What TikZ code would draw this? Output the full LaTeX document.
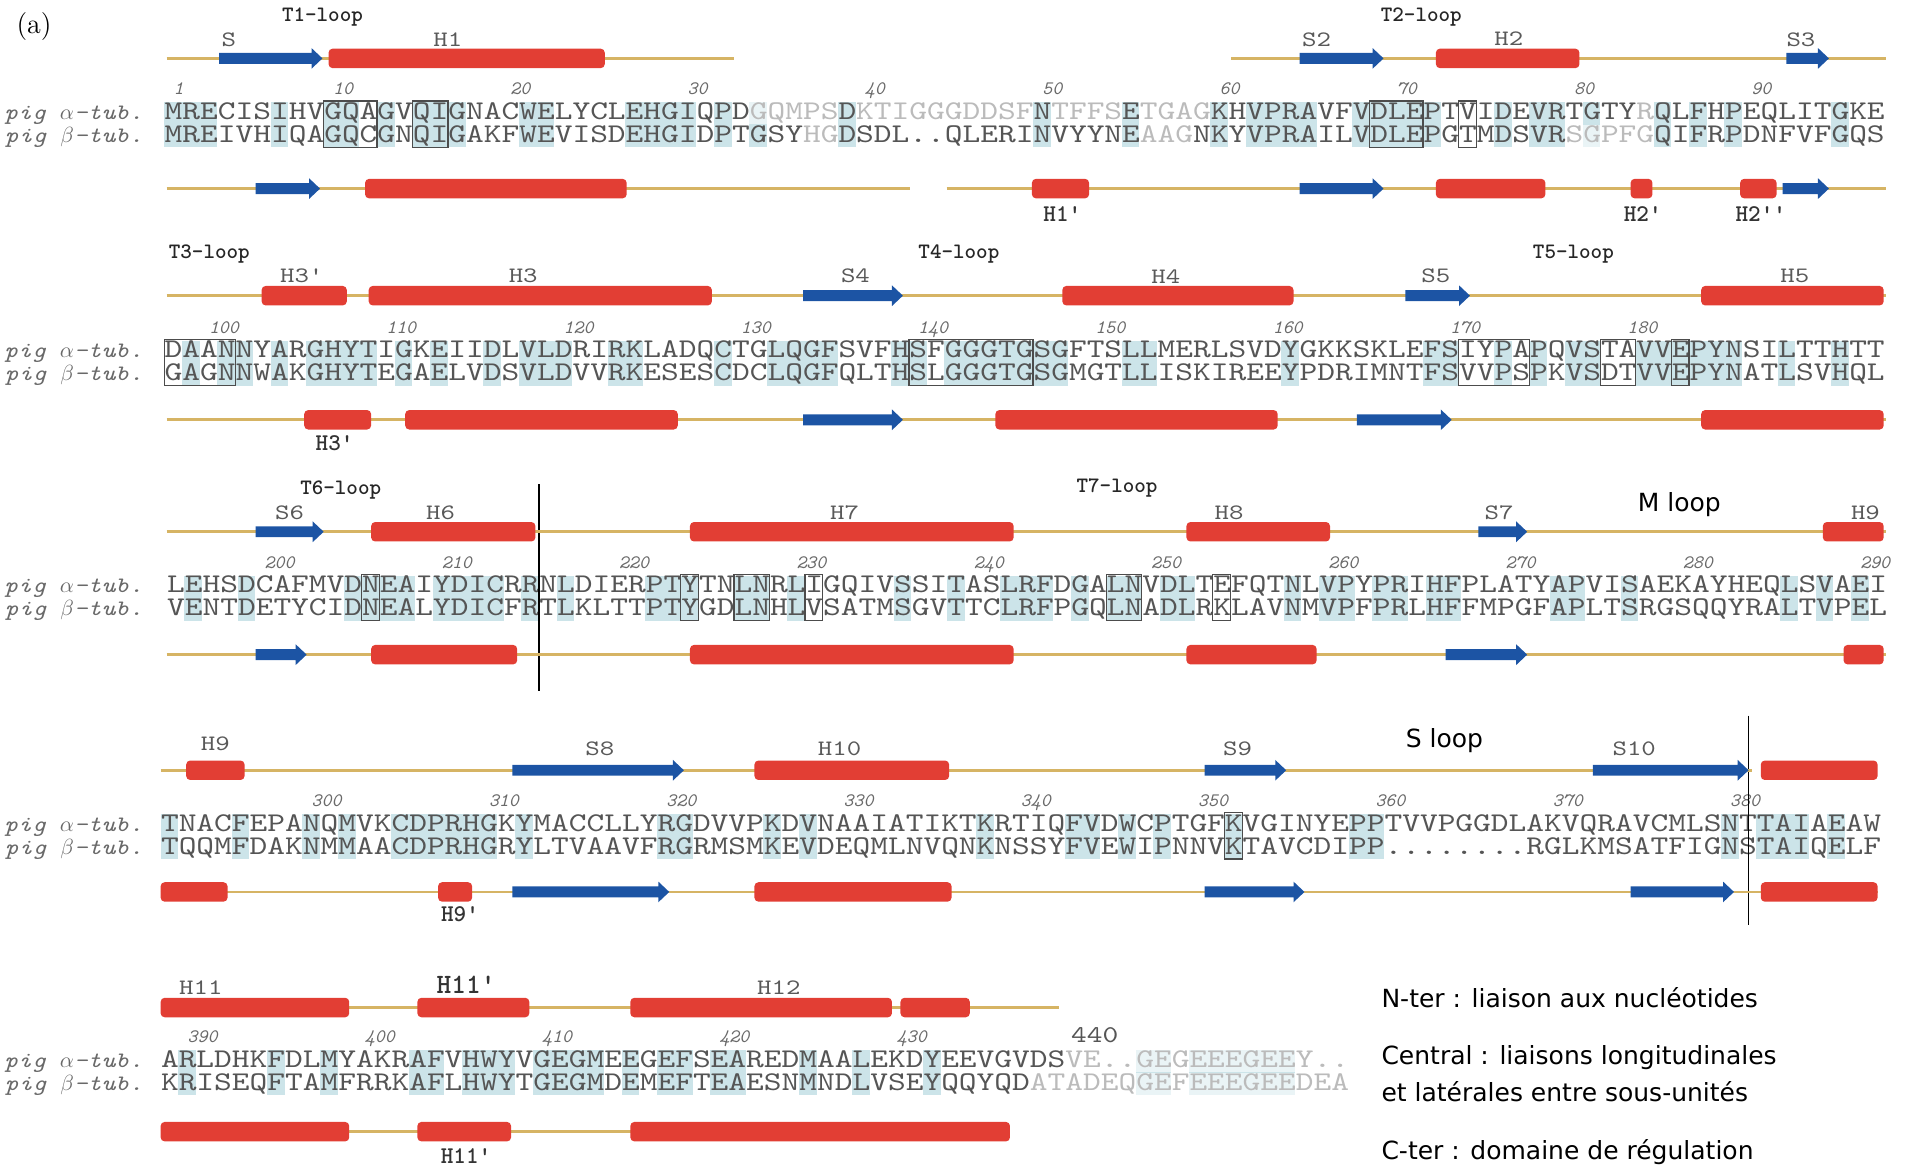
\documentclass[tikz,border=0pt]{standalone}
\usepackage{fontspec}
\usepackage{xstring}
\newfontfamily\seqfont{lmmono10-regular.otf}[FakeStretch=1.25]
\newfontfamily\numfont{lmmono10-italic.otf}
\newfontfamily\tagfont{lmmono10-italic.otf}[FakeStretch=1.2]
\newfontfamily\loopfont{lmmonolt10-bold.otf}
\newfontfamily\notefont{DejaVu Sans}

\definecolor{helixred}{RGB}{226,62,52}
\definecolor{strandblue}{RGB}{28,84,164}
\definecolor{trackline}{RGB}{214,180,100}
\definecolor{idcyan}{RGB}{204,228,233}
\definecolor{seqgray}{RGB}{85,85,85}
\definecolor{numgray}{RGB}{105,105,105}

% residue pitch
\def\pw{14.57}

% secondary structure pieces
\newcommand\helix[3]{\fill[hlx] (#1,#3-8) rectangle (#2,#3+8);}
\newcommand\strand[3]{\fill[strd] (#1,#3-4.5) -- (#2-9,#3-4.5) -- (#2-9,#3-8.5) -- (#2,#3)
  -- (#2-9,#3+8.5) -- (#2-9,#3+4.5) -- (#1,#3+4.5) -- cycle;}

% boxed residues: x0, first residue, from, to, baseline
\newcommand\resbox[5]{\draw[boxln] ({#1+(#3-#2)*\pw},#5-15) rectangle ({#1+(#4-#2+1)*\pw},#5+23);}
% faded residues: x0, first residue, from, to, top of line
\newcommand\dimres[5]{\fill[white,opacity=.6] ({#1+(#3-#2)*\pw},#5) rectangle ({#1+(#4-#2+1)*\pw},#5+18);}

% alignment block: alpha, beta, x0, baseline, first residue, ticks
\newcommand\seqrow[6]{%
  \StrLen{#1}[\seqlen]%
  \foreach \k in {1,...,\seqlen}{%
    \StrChar{#1}{\k}[\ca]\StrChar{#2}{\k}[\cb]%
    \ifx\ca\cb
      \fill[idshade] ({#3+(\k-1)*\pw},#4-14) rectangle ++(\pw,37);
    \fi
  }
  \node[seq] (a#5) at (#3,#4) {#1};
  \node[seq] (b#5) at (#3,#4+19) {#2};
  \node[tag] (ta#5) at (118,#4) {pig $\alpha$-tub.};
  \node[tag] (tb#5) at (118,#4+19) {pig $\beta$-tub.};
  \foreach \n in {#6}{\node[num] (n\n) at ({#3+(\n-#5+0.5)*\pw},#4-20) {\n};}
}

\begin{document}
\begin{tikzpicture}[x=0.6084pt, y=-0.6084pt]
    \tikzstyle{seq}    = [font=\seqfont\fontsize{13.51pt}{14pt}\selectfont, text=seqgray, inner sep=0pt, anchor=base west]
    \tikzstyle{num}    = [font=\numfont\fontsize{9.5pt}{10pt}\selectfont, text=numgray, inner sep=0pt, anchor=base west]
    \tikzstyle{tag}    = [font=\tagfont\fontsize{11pt}{11pt}\selectfont, text=numgray, inner sep=0pt, anchor=base east]
    \tikzstyle{hlx}    = [fill=helixred, rounded corners=2pt]
    \tikzstyle{strd}   = [fill=strandblue]
    \tikzstyle{track}  = [draw=trackline, line width=1.4pt]
    \tikzstyle{idshade}= [fill=idcyan]
    \tikzstyle{boxln}  = [draw=black!70, line width=0.6pt]
    \tikzstyle{sslbl}  = [font=\seqfont\fontsize{11pt}{12pt}\selectfont, text=black!65, inner sep=0pt]
    \tikzstyle{sublbl} = [font=\loopfont\fontsize{12pt}{12pt}\selectfont, text=black!80, inner sep=0pt]
    \tikzstyle{looplbl}= [font=\loopfont\fontsize{11pt}{12pt}\selectfont, text=black!85, inner sep=0pt]
    \tikzstyle{note}   = [font=\notefont\fontsize{12.5pt}{14pt}\selectfont, inner sep=0pt, anchor=base west]

    \useasboundingbox (0,0) rectangle (1568,959);
    \node[font=\fontsize{14pt}{14pt}\selectfont] (panel) at (28,22) {(a)};

    % Alignment blocks
    \seqrow{MRECISIHVGQAGVQIGNACWELYCLEHGIQPDGQMPSDKTIGGGDDSFNTFFSETGAGKHVPRAVFVDLEPTVIDEVRTGTYRQLFHPEQLITGKE}
           {MREIVHIQAGQCGNQIGAKFWEVISDEHGIDPTGSYHGDSDL..QLERINVYYNEAAGNKYVPRAILVDLEPGTMDSVRSGPFGQIFRPDNFVFGQS}
           {135}{98}{1}{1,10,20,30,40,50,60,70,80,90}
    \seqrow{DAANNYARGHYTIGKEIIDLVLDRIRKLADQCTGLQGFSVFHSFGGGTGSGFTSLLMERLSVDYGKKSKLEFSIYPAPQVSTAVVEPYNSILTTHTT}
           {GAGNNWAKGHYTEGAELVDSVLDVVRKESESCDCLQGFQLTHSLGGGTGSGMGTLLISKIREEYPDRIMNTFSVVPSPKVSDTVVEPYNATLSVHQL}
           {135}{294}{98}{100,110,120,130,140,150,160,170,180}
    \seqrow{LEHSDCAFMVDNEAIYDICRRNLDIERPTYTNLNRLIGQIVSSITASLRFDGALNVDLTEFQTNLVPYPRIHFPLATYAPVISAEKAYHEQLSVAEI}
           {VENTDETYCIDNEALYDICFRTLKLTTPTYGDLNHLVSATMSGVTTCLRFPGQLNADLRKLAVNMVPFPRLHFFMPGFAPLTSRGSQQYRALTVPEL}
           {137}{487}{195}{200,210,220,230,240,250,260,270,280,290}
    \seqrow{TNACFEPANQMVKCDPRHGKYMACCLLYRGDVVPKDVNAAIATIKTKRTIQFVDWCPTGFKVGINYEPPTVVPGGDLAKVQRAVCMLSNTTAIAEAW}
           {TQQMFDAKNMMAACDPRHGRYLTVAAVFRGRMSMKEVDEQMLNVQNKNSSYFVEWIPNNVKTAVCDIPP........RGLKMSATFIGNSTAIQELF}
           {132}{683}{292}{300,310,320,330,340,350,360,370,380}
    \seqrow{ARLDHKFDLMYAKRAFVHWYVGEGMEEGEFSEAREDMAALEKDYEEVGVDSVE..GEGEEEGEEY..}
           {KRISEQFTAMFRRKAFLHWYTGEGMDEMEFTEAESNMNDLVSEYQQYQDATADEQGEFEEEGEEDEA}
           {132}{877}{389}{390,400,410,420,430}
    \node[seq, font=\seqfont\fontsize{12pt}{12pt}\selectfont] (n440) at (880,857) {440};

    % Faded residues
    \dimres{135}{1}{34}{38}{84}  \dimres{135}{1}{40}{49}{84}
    \dimres{135}{1}{51}{54}{84}  \dimres{135}{1}{56}{59}{84}
    \dimres{135}{1}{84}{84}{84}
    \dimres{135}{1}{37}{38}{103} \dimres{135}{1}{56}{58}{103}
    \dimres{135}{1}{80}{84}{103}
    \dimres{132}{389}{440}{455}{863}
    \dimres{132}{389}{438}{455}{882}

    % Boxed residues
    \resbox{135}{1}{10}{12}{98}   \resbox{135}{1}{15}{16}{98}
    \resbox{135}{1}{69}{71}{98}   \resbox{135}{1}{74}{74}{98}
    \resbox{135}{98}{98}{101}{294}  \resbox{135}{98}{140}{146}{294}
    \resbox{135}{98}{171}{174}{294} \resbox{135}{98}{179}{180}{294}
    \resbox{135}{98}{183}{183}{294}
    \resbox{137}{195}{206}{206}{487} \resbox{137}{195}{224}{224}{487}
    \resbox{137}{195}{227}{228}{487} \resbox{137}{195}{231}{231}{487}
    \resbox{137}{195}{248}{249}{487} \resbox{137}{195}{254}{254}{487}
    \resbox{132}{292}{352}{352}{683}

    % Domain borders
    \coordinate (d1a) at (443,398);  \coordinate (d1b) at (443,568);
    \coordinate (d2a) at (1437,588); \coordinate (d2b) at (1437,760);
    \draw[line width=0.8pt] (d1a) -- (d1b);
    \draw[line width=0.8pt] (d2a) -- (d2b);

    % Row 1, alpha
    \draw[track] (137,48) -- (603,48);
    \draw[track] (1012,48) -- (1550,48);
    \strand{180}{265}{48} \helix{270}{497}{48}
    \strand{1068}{1137}{48} \helix{1180}{1298}{48} \strand{1468}{1503}{48}
    \node[sslbl] (lS) at (188,33) {S};
    \node[sslbl] (lH1) at (368,33) {H1};
    \node[sslbl] (lS2) at (1082,33) {S2};
    \node[sslbl] (lH2) at (1240,32) {H2};
    \node[sslbl] (lS3) at (1480,33) {S3};
    \node[looplbl] (T1) at (265,14) {T1-loop};
    \node[looplbl] (T2) at (1168,14) {T2-loop};

    % Row 1, beta
    \draw[track] (137,155) -- (748,155);
    \draw[track] (778,155) -- (1550,155);
    \strand{210}{263}{155} \helix{300}{515}{155} \helix{848}{895}{155}
    \strand{1068}{1137}{155} \helix{1180}{1270}{155} \helix{1340}{1358}{155}
    \helix{1430}{1460}{155} \strand{1465}{1503}{155}
    \node[sublbl] (bH1) at (873,176) {H1'};
    \node[sublbl] (bH2) at (1350,176) {H2'};
    \node[sublbl] (bH2b) at (1447,176) {H2''};

    % Row 2, alpha
    \draw[track] (137,243) -- (1550,243);
    \helix{215}{285}{243} \helix{303}{585}{243} \strand{660}{742}{243}
    \helix{873}{1063}{243} \strand{1155}{1208}{243} \helix{1398}{1548}{243}
    \node[sslbl] (lH3p) at (248,227) {H3'};
    \node[sslbl] (lH3) at (430,227) {H3};
    \node[sslbl] (lS4) at (703,227) {S4};
    \node[sslbl] (lH4) at (958,227) {H4};
    \node[sslbl] (lS5) at (1180,227) {S5};
    \node[sslbl] (lH5) at (1475,227) {H5};
    \node[looplbl] (T3) at (172,209) {T3-loop};
    \node[looplbl] (T4) at (788,209) {T4-loop};
    \node[looplbl] (T5) at (1293,209) {T5-loop};

    % Row 2, beta
    \draw[track] (137,345) -- (1550,345);
    \helix{250}{305}{345} \helix{333}{557}{345} \strand{660}{742}{345}
    \helix{818}{1050}{345} \strand{1115}{1193}{345} \helix{1398}{1548}{345}
    \node[sublbl] (bH3) at (275,364) {H3'};

    % Row 3, alpha
    \draw[track] (137,437) -- (1550,437);
    \strand{210}{266}{437} \helix{305}{440}{437} \helix{567}{833}{437}
    \helix{975}{1093}{437} \strand{1215}{1255}{437} \helix{1498}{1548}{437}
    \node[sslbl] (lS6) at (238,421) {S6};
    \node[sslbl] (lH6) at (362,421) {H6};
    \node[sslbl] (lH7) at (694,421) {H7};
    \node[sslbl] (lH8) at (1010,421) {H8};
    \node[sslbl] (lS7) at (1232,421) {S7};
    \node[sslbl] (lH9) at (1533,421) {H9};
    \node[looplbl] (T6) at (280,403) {T6-loop};
    \node[looplbl] (T7) at (918,401) {T7-loop};
    \node[note, anchor=center] (mloop) at (1380,415) {M loop};

    % Row 3, beta
    \draw[track] (137,538) -- (1550,538);
    \strand{210}{252}{538} \helix{305}{425}{538} \helix{567}{833}{538}
    \helix{975}{1082}{538} \strand{1188}{1255}{538} \helix{1515}{1548}{538}

    % Row 4, alpha
    \draw[track] (132,633) -- (1440,633);
    \helix{153}{201}{633} \strand{421}{562}{633} \helix{620}{780}{633}
    \strand{990}{1057}{633} \strand{1309}{1437}{633} \helix{1447}{1543}{633}
    \node[sslbl] (lH9b) at (177,611) {H9};
    \node[sslbl] (lS8) at (493,615) {S8};
    \node[sslbl] (lH10) at (690,615) {H10};
    \node[sslbl] (lS9) at (1017,615) {S9};
    \node[sslbl] (lS10) at (1343,615) {S10};
    \node[note, anchor=center] (sloop) at (1187,609) {S loop};

    % Row 4, beta
    \draw[track] (132,733) -- (1543,733);
    \helix{132}{187}{733} \helix{360}{388}{733} \strand{421}{550}{733}
    \helix{620}{782}{733} \strand{990}{1072}{733} \strand{1340}{1425}{733}
    \helix{1447}{1543}{733}
    \node[sublbl] (bH9) at (378,751) {H9'};

    % Row 5, alpha
    \draw[track] (132,828) -- (870,828);
    \helix{132}{287}{828} \helix{343}{435}{828} \helix{518}{733}{828} \helix{740}{797}{828}
    \node[sslbl] (lH11) at (165,812) {H11};
    \node[sublbl, font=\loopfont\fontsize{14pt}{14pt}\selectfont] (lH11p) at (383,809) {H11'};
    \node[sslbl] (lH12) at (640,812) {H12};

    % Row 5, beta
    \draw[track] (132,930) -- (830,930);
    \helix{132}{287}{930} \helix{343}{420}{930} \helix{518}{830}{930}
    \node[sublbl] (bH11) at (383,950) {H11'};

    % Domains
    \node[note] (nter) at (1135,828) {N-ter : liaison aux nucléotides};
    \node[note] (cent) at (1135,875) {Central : liaisons longitudinales};
    \node[note] (cent2) at (1135,905) {et latérales entre sous-unités};
    \node[note] (cter) at (1135,953) {C-ter : domaine de régulation};
\end{tikzpicture}
\end{document}
